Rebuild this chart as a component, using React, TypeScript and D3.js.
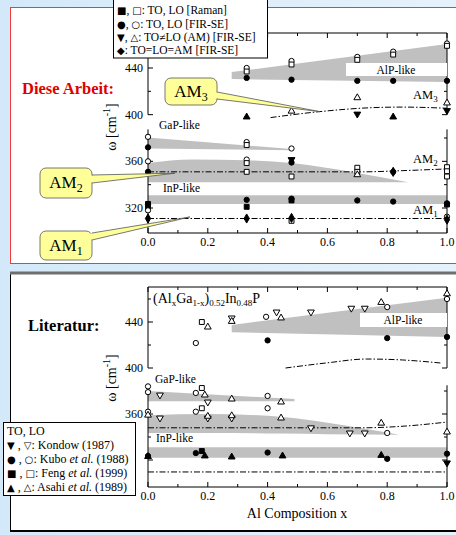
import React from 'react'
import * as d3 from 'd3'

type Pt = [number, number]
type BandPt = [number, number, number] // x, upper, lower

const FONT = '"Liberation Serif", "Times New Roman", serif'
const SYMFONT = '"DejaVu Sans", sans-serif'

// x ticks shared by both panels
const xMajor = [0, 0.2, 0.4, 0.6, 0.8, 1.0]
const xMinor = [0.1, 0.3, 0.5, 0.7, 0.9]
const yMajor = [320, 360, 400, 440]
const yMinor = [340, 380, 420, 460]

// ---------- Diese Arbeit (top) ----------
const topRamanTO: Pt[] = [[0, 323.5], [0, 321], [0.33, 321], [0.48, 326.5], [1.0, 323]]
const topRamanLO: Pt[] = [[0.33, 437], [0.48, 443], [0.70, 447], [0.82, 451.5], [1.0, 459],
  [0.33, 374], [0.33, 358.5], [0.70, 354.5], [0.70, 351], [1.0, 355], [1.0, 351.5], [1.0, 347],
  [0.33, 351], [0.48, 347], [0.48, 309]]
const topFirTO: Pt[] = [[0.33, 431.5], [0.48, 430], [0.70, 429], [0.82, 429], [1.0, 429],
  [0, 372], [0, 351], [0.48, 359],
  [0, 323], [0.33, 327], [0.48, 328], [0.70, 326.5], [0.82, 325.5], [1.0, 324]]
const topFirLO: Pt[] = [[0.33, 440], [0.48, 446], [0.70, 449.5], [0.82, 454], [1.0, 461],
  [0, 381], [0.33, 376.5], [0.48, 371], [0, 360], [0.33, 361.5], [0.82, 351], [0, 318], [1.0, 312.5]]
const topAmTO: Pt[] = [[0.70, 400.5], [1.0, 403.5], [0.48, 361.5]]
const topAmTOup: Pt[] = [[0.33, 398], [0.82, 398]]
const topAmLO: Pt[] = [[0.48, 403], [0.70, 414.5], [1.0, 410], [0.70, 348.5]]
const topDiamond: Pt[] = [[0, 311], [0.33, 311], [0.48, 311.5], [1.0, 310], [0.82, 351]]

const topBandAlP: BandPt[] = [[0.28, 436.5, 430.5], [1.0, 460.5, 428]]
const topBandGaP1: BandPt[] = [[0, 380.5, 371], [0.48, 370.5, 369.5]]
const topBandGaP2: BandPt[] = [[0, 358.5, 342], [0.15, 361.5, 342], [0.33, 361, 342], [0.48, 358.5, 342], [0.7, 350, 342], [0.87, 342, 342]]
const topBandInP: BandPt[] = [[0, 331, 323.5], [1, 331, 323.5]]
const topAM3: Pt[] = [[0.41, 397.5], [0.57, 402.5], [0.75, 406], [0.85, 406.5], [1.0, 405.5]]
const topAM2: Pt[] = [[0, 351], [0.72, 351], [0.85, 352], [1, 353.5]]
const topAM1: Pt[] = [[0, 311], [1, 311]]

// ---------- Literatur (bottom) ----------
const kondowTO: Pt[] = [[1.0, 317.5]]
const kondowLO: Pt[] = [[0.28, 443.5], [0.43, 448.7], [0.545, 448.7], [0.68, 452], [0.725, 452],
  [0.04, 376.5], [0.2, 370.4], [0.04, 356.5], [0.2, 356.5], [0.28, 356.5], [0.545, 348], [0.675, 343.5], [0.725, 343.5]]
const kuboTO: Pt[] = [[0.4, 424], [0.8, 426], [1.0, 427], [0, 323.5], [0.16, 326], [0.4, 326.5], [0.8, 321], [1.0, 325.5]]
const kuboLO: Pt[] = [[0.16, 421.7], [0.395, 444.5], [0.8, 453], [1.0, 460], [0, 384], [0, 379], [0.16, 378.3],
  [0.4, 375.7], [0, 362], [0.16, 362], [0.4, 365], [0.8, 343.5]]
const fengTO: Pt[] = [[0.18, 327.8]]
const fengLO: Pt[] = [[0.18, 440], [0.18, 382.6], [0.18, 365]]
const asahiTO: Pt[] = [[0, 323], [0.19, 323.5], [0.28, 322.6], [0.45, 323.5], [0.78, 324]]
const asahiLO: Pt[] = [[0.2, 435.6], [0.28, 440.5], [0.445, 443.5], [0.78, 457], [1.0, 464.5], [0.19, 376.5],
  [0.28, 373], [0.445, 370.4], [0, 359], [0.2, 358], [0.28, 358.5], [0.445, 356.5], [0.78, 352], [1.0, 344.3]]

const botBandAlP: BandPt[] = [[0.28, 437.5, 431], [1.0, 461, 427]]
const botBandGaP1: BandPt[] = [[0, 380, 371], [0.49, 373, 371]]
const botBandGaP2: BandPt[] = [[0, 359, 343.5], [0.2, 360, 343.5], [0.45, 357.5, 343], [0.6, 352.5, 342.5], [0.84, 342, 342]]
const botBandInP: BandPt[] = [[0, 331, 322], [1, 331, 322]]
const botAM3: Pt[] = [[0.46, 400], [0.6, 404.5], [0.73, 407.8], [0.85, 407], [0.98, 404.3]]
const botAM2: Pt[] = [[0, 348], [0.72, 348], [0.86, 349.5], [1, 353]]
const botAM1: Pt[] = [[0, 309.6], [1, 309.6]]

type Shape = 'square' | 'circle' | 'down' | 'up' | 'diamond'
type Series = { pts: Pt[]; shape: Shape; filled: boolean }

const symTypes: Record<Shape, d3.SymbolType> = {
  square: d3.symbolSquare,
  circle: d3.symbolCircle,
  down: d3.symbolTriangle,
  up: d3.symbolTriangle,
  diamond: d3.symbolDiamond,
}
const symSizes: Record<Shape, number> = { square: 24, circle: 22, down: 20, up: 20, diamond: 24 }

const xScale = d3.scaleLinear().domain([0, 1]).range([148, 447])

function Sub({ t, s, dy = 4, size }: { t: string; s: string; dy?: number; size: number }) {
  return (
    <>
      <tspan>{t}</tspan>
      <tspan fontSize={size} dy={dy}>{s}</tspan>
    </>
  )
}

function Marks({ series }: { series: Series[] }) {
  return (
    <g>
      {series.map((s, i) =>
        s.pts.map((p, j) => {
          const d = d3.symbol().type(symTypes[s.shape]).size(symSizes[s.shape])()!
          const rot = s.shape === 'down' ? ' rotate(180)' : ''
          return (
            <path key={i + '-' + j} d={d}
              transform={`translate(${xScale(p[0])},${(p as any)[2] ?? 0})${rot}`}
              fill={s.filled ? '#000' : '#fff'} stroke="#000" strokeWidth={1} />
          )
        })
      )}
    </g>
  )
}

type PanelProps = {
  y: d3.ScaleLinear<number, number>
  top: number
  bottom: number
  gap: [number, number]
  bands: BandPt[][]
  lines: Pt[][]
  series: Series[]
  hidden?: number[] // tick labels covered by a legend box
}

function Panel({ y, top, bottom, gap, bands, lines, series, hidden = [] }: PanelProps) {
  const area = d3.area<BandPt>().x(d => xScale(d[0])).y0(d => y(d[2])).y1(d => y(d[1])).curve(d3.curveMonotoneX)
  const line = d3.line<Pt>().x(d => xScale(d[0])).y(d => y(d[1])).curve(d3.curveMonotoneX)
  const L = xScale(0), R = xScale(1)
  const gTop = y(gap[1]), gBot = y(gap[0])
  const mapped: Series[] = series.map(s => ({ ...s, pts: s.pts.map(p => [p[0], p[1], y(p[1])] as any) }))
  const inside = (v: number) => y(v) >= top && y(v) <= bottom
  return (
    <g>
      {bands.map((b, i) => <path key={i} d={area(b)!} fill="#c0c0c0" />)}
      {lines.map((l, i) => (
        <path key={i} d={line(l)!} fill="none" stroke="#000" strokeWidth={1} strokeDasharray="6 2 1.5 2" />
      ))}
      {/* frame with broken vertical axes */}
      <g stroke="#000" strokeWidth={1} fill="none">
        <line x1={L} x2={R} y1={top} y2={top} />
        <line x1={L} x2={R} y1={bottom} y2={bottom} />
        {[L, R].map(xx => (
          <g key={xx}>
            <line x1={xx} x2={xx} y1={top} y2={gTop} />
            <line x1={xx} x2={xx} y1={gBot} y2={bottom} />
          </g>
        ))}
        {xMajor.map(t => (
          <g key={'M' + t}>
            <line x1={xScale(t)} x2={xScale(t)} y1={bottom} y2={bottom - 5} />
            <line x1={xScale(t)} x2={xScale(t)} y1={top} y2={top + 5} />
          </g>
        ))}
        {xMinor.map(t => (
          <g key={'m' + t}>
            <line x1={xScale(t)} x2={xScale(t)} y1={bottom} y2={bottom - 3} />
            <line x1={xScale(t)} x2={xScale(t)} y1={top} y2={top + 3} />
          </g>
        ))}
        {yMajor.filter(inside).map(v => (
          <g key={'Y' + v}>
            <line x1={L} x2={L + 5} y1={y(v)} y2={y(v)} />
            <line x1={R} x2={R - 5} y1={y(v)} y2={y(v)} />
          </g>
        ))}
        {yMinor.filter(v => inside(v) && (v < gap[0] || v > gap[1])).map(v => (
          <g key={'y' + v}>
            <line x1={L} x2={L + 3} y1={y(v)} y2={y(v)} />
            <line x1={R} x2={R - 3} y1={y(v)} y2={y(v)} />
          </g>
        ))}
      </g>
      <g fontFamily={FONT} fontSize={12} fill="#000">
        {yMajor.filter(v => inside(v) && !hidden.includes(v)).map(v => (
          <text key={v} x={L - 5} y={y(v) + 4} textAnchor="end">{v}</text>
        ))}
        {xMajor.map(t => (
          <text key={t} x={xScale(t)} y={bottom + 13} textAnchor="middle">{t.toFixed(1)}</text>
        ))}
      </g>
      <Marks series={mapped} />
    </g>
  )
}

function Callout({ x, y, w, h, a, b, tip, sub }: { x: number; y: number; w: number; h: number; a: Pt; b: Pt; tip: Pt; sub: string }) {
  return (
    <g>
      <path d={`M${a[0]},${a[1]} L${tip[0]},${tip[1]} L${b[0]},${b[1]} Z`} fill="#ffff99" stroke="#555" strokeWidth={0.8} />
      <rect x={x} y={y} width={w} height={h} rx={6} fill="#ffff99" stroke="#555" strokeWidth={0.8} />
      <rect x={a[0] - 2} y={a[1] + 0.6} width={3} height={b[1] - a[1] - 1.2} fill="#ffff99" />
      <text x={x + w / 2} y={y + h / 2 + 5} textAnchor="middle" fontFamily={FONT} fontSize={17}>
        <Sub t="AM" s={sub} size={12} dy={4} />
      </text>
    </g>
  )
}

function S({ c }: { c: string }) {
  return <tspan fontFamily={SYMFONT} fontSize={10}>{c}</tspan>
}

export default function App() {
  const yTop = d3.scaleLinear().domain([320, 440]).range([208, 68])
  const yBot = d3.scaleLinear().domain([360, 440]).range([414, 322])

  const topSeries: Series[] = [
    { pts: topRamanTO, shape: 'square', filled: true },
    { pts: topFirTO, shape: 'circle', filled: true },
    { pts: topFirLO, shape: 'circle', filled: false },
    { pts: topRamanLO, shape: 'square', filled: false },
    { pts: topAmTO, shape: 'down', filled: true },
    { pts: topAmTOup, shape: 'up', filled: true },
    { pts: topAmLO, shape: 'up', filled: false },
    { pts: topDiamond, shape: 'diamond', filled: true },
  ]
  const botSeries: Series[] = [
    { pts: kondowTO, shape: 'down', filled: true },
    { pts: kondowLO, shape: 'down', filled: false },
    { pts: kuboTO, shape: 'circle', filled: true },
    { pts: kuboLO, shape: 'circle', filled: false },
    { pts: fengTO, shape: 'square', filled: true },
    { pts: fengLO, shape: 'square', filled: false },
    { pts: asahiTO, shape: 'up', filled: true },
    { pts: asahiLO, shape: 'up', filled: false },
  ]

  const tAM3: Pt = [xScale(0.575), yTop(402.6)]
  const tAM2: Pt = [xScale(0.09), yTop(349.8)]
  const tAM1: Pt = [xScale(0.14), yTop(312.3)]

  return (
    <svg width={456} height={535} style={{ position: 'absolute', left: 0, top: 0 }} fontFamily={FONT}>
      <defs>
        <linearGradient id="bg" x1="0" y1="0" x2="1" y2="0">
          <stop offset="0" stopColor="#d3e9f9" />
          <stop offset="1" stopColor="#e6f2fb" />
        </linearGradient>
      </defs>
      <rect width={456} height={535} fill="url(#bg)" />

      {/* top panel */}
      <rect x={10.5} y={7.5} width={460} height={256} fill="#fff" stroke="#ee3b3b" strokeWidth={1} />
      <text x={22} y={94} fontSize={16.5} fontWeight="bold" fill="#e00000">Diese Arbeit:</text>
      <Panel y={yTop} top={33} bottom={233} gap={[387.4, 400]}
        bands={[topBandAlP, topBandGaP1, topBandGaP2, topBandInP]}
        lines={[topAM3, topAM2, topAM1]} series={topSeries} />
      <rect x={346} y={63} width={101} height={13} fill="#fff" />
      <g fontSize={11.5}>
        <text x={396} y={73.5} textAnchor="middle">AlP-like</text>
        <text x={159} y={129}>GaP-like</text>
        <text x={163} y={192}>InP-like</text>
      </g>
      <g fontSize={12.5}>
        <text x={413} y={99}><Sub t="AM" s="3" size={9} dy={3} /></text>
        <text x={413} y={163}><Sub t="AM" s="2" size={9} dy={3} /></text>
        <text x={413} y={214}><Sub t="AM" s="1" size={9} dy={3} /></text>
      </g>
      <text transform="translate(116,127) rotate(-90)" textAnchor="middle" fontSize={14}>
        ω [cm<tspan fontSize={10} dy={-6}>-1</tspan><tspan dy={6}>]</tspan>
      </text>
      <Callout x={165} y={78} w={52} h={27} a={[217, 92]} b={[217, 99]} tip={tAM3} sub="3" />
      <Callout x={40} y={168} w={52} h={30} a={[92, 175]} b={[92, 183]} tip={tAM2} sub="2" />
      <Callout x={40} y={231} w={52} h={29} a={[92, 233]} b={[92, 240]} tip={tAM1} sub="1" />

      {/* top legend */}
      <rect x={113.5} y={-1} width={154} height={59} fill="#fff" stroke="#000" strokeWidth={1} />
      <g fontSize={11.5}>
        <text x={117} y={14}><S c="■" />, <S c="□" />: TO, LO [Raman]</text>
        <text x={117} y={27.5}><S c="●" />, <S c="○" />: TO, LO [FIR-SE]</text>
        <text x={117} y={41}><S c="▼" />, <S c="△" />: TO≠LO (AM) [FIR-SE]</text>
        <text x={117} y={54}><S c="◆" />: TO=LO=AM [FIR-SE]</text>
      </g>

      {/* bottom panel */}
      <rect x={10.5} y={273} width={460} height={258} fill="#fff" stroke="#000" strokeWidth={1} />
      <line x1={10} x2={456} y1={273} y2={273} stroke="#6e6e6e" strokeWidth={3} />
      <line x1={10} x2={456} y1={531} y2={531} stroke="#000" strokeWidth={2} />
      <text x={28} y={331} fontSize={16.5} fontWeight="bold">Literatur:</text>
      <Panel y={yBot} top={287} bottom={487} gap={[385, 400]}
        bands={[botBandAlP, botBandGaP1, botBandGaP2, botBandInP]}
        lines={[botAM3, botAM2, botAM1]} series={botSeries} hidden={[320]} />
      <rect x={360} y={313} width={87} height={14} fill="#fff" />
      <g fontSize={11.5}>
        <text x={403} y={324} textAnchor="middle">AlP-like</text>
        <text x={155} y={383}>GaP-like</text>
        <text x={156} y={442}>InP-like</text>
      </g>
      <text x={153} y={303} fontSize={14}>
        (Al<tspan fontSize={9} dy={3}>x</tspan><tspan dy={-3}>Ga</tspan><tspan fontSize={9} dy={3}>1-x</tspan>
        <tspan dy={-3}>)</tspan><tspan fontSize={9} dy={3}>0.52</tspan><tspan dy={-3}>In</tspan>
        <tspan fontSize={9} dy={3}>0.48</tspan><tspan dy={-3}>P</tspan>
      </text>
      <text transform="translate(116,378) rotate(-90)" textAnchor="middle" fontSize={14}>
        ω [cm<tspan fontSize={10} dy={-6}>-1</tspan><tspan dy={6}>]</tspan>
      </text>
      <text x={297} y={518} textAnchor="middle" fontSize={14}>Al Composition x</text>

      {/* bottom legend */}
      <rect x={3.5} y={422.5} width={132} height={73} fill="#fff" stroke="#000" strokeWidth={1} />
      <g fontSize={12}>
        <text x={7} y={435}>TO, LO</text>
        <text x={7} y={449}><S c="▼" /> , <S c="▽" />: Kondow (1987)</text>
        <text x={7} y={463}><S c="●" /> , <S c="○" />:  Kubo <tspan fontStyle="italic">et al.</tspan> (1988)</text>
        <text x={7} y={477}><S c="■" /> , <S c="□" />: Feng <tspan fontStyle="italic">et al.</tspan> (1999)</text>
        <text x={7} y={491}><S c="▲" /> , <S c="△" />: Asahi <tspan fontStyle="italic">et al.</tspan> (1989)</text>
      </g>
    </svg>
  )
}
